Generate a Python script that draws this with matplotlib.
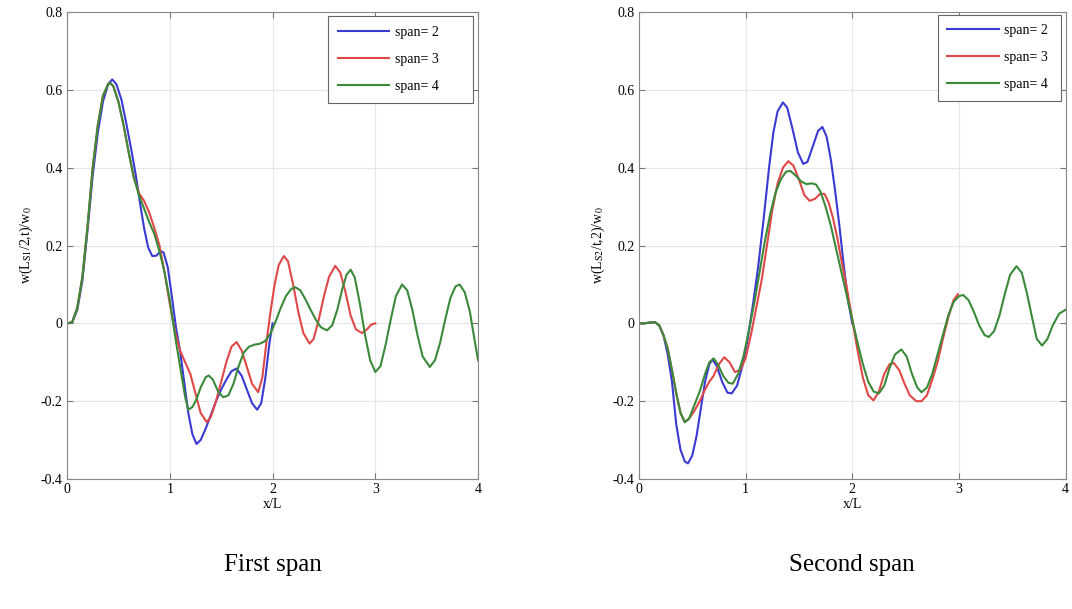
import matplotlib
matplotlib.use('Agg')
import matplotlib.pyplot as plt

plt.rcParams['font.family'] = ['Liberation Serif', 'DejaVu Serif']
plt.rcParams['mathtext.fontset'] = 'stix'

# ---- first span: midpoint deflection of span 1 ----
s1_x2 = [0, 0.05, 0.10, 0.15, 0.20, 0.25, 0.30, 0.35, 0.40, 0.44, 0.48, 0.53, 0.58, 0.63,
         0.67, 0.71, 0.75, 0.79, 0.83, 0.87, 0.91, 0.94, 0.98, 1.02, 1.06, 1.10, 1.14, 1.18,
         1.22, 1.26, 1.30, 1.35, 1.40, 1.45, 1.50, 1.55, 1.60, 1.65, 1.70, 1.75, 1.80, 1.85,
         1.89, 1.93, 1.97, 2.00]
s1_y2 = [0, 0.002, 0.035, 0.11, 0.24, 0.38, 0.49, 0.57, 0.615, 0.627, 0.615, 0.575, 0.51, 0.44,
         0.38, 0.31, 0.245, 0.195, 0.173, 0.174, 0.186, 0.182, 0.145, 0.07, -0.01, -0.07, -0.15, -0.23,
         -0.285, -0.31, -0.30, -0.27, -0.235, -0.20, -0.17, -0.145, -0.123, -0.116, -0.135, -0.17, -0.205, -0.222,
         -0.205, -0.14, -0.05, 0.0]

s1_x3 = [0, 0.05, 0.10, 0.15, 0.20, 0.25, 0.30, 0.35, 0.40, 0.42, 0.45, 0.50, 0.55, 0.60,
         0.65, 0.70, 0.75, 0.80, 0.85, 0.90, 0.95, 1.00, 1.05, 1.10, 1.15, 1.20, 1.25, 1.30,
         1.36, 1.40, 1.45, 1.50, 1.55, 1.60, 1.65, 1.70, 1.75, 1.80, 1.86, 1.90, 1.94, 1.98,
         2.02, 2.06, 2.11, 2.15, 2.20, 2.25, 2.30, 2.36, 2.40, 2.45, 2.50, 2.55, 2.61, 2.66,
         2.71, 2.76, 2.81, 2.87, 2.92, 2.96, 3.00]
s1_y3 = [0, 0.003, 0.04, 0.12, 0.25, 0.40, 0.51, 0.585, 0.615, 0.618, 0.61, 0.57, 0.51, 0.44,
         0.375, 0.335, 0.315, 0.285, 0.245, 0.20, 0.13, 0.05, -0.02, -0.07, -0.10, -0.13, -0.18, -0.23,
         -0.254, -0.24, -0.20, -0.15, -0.10, -0.06, -0.048, -0.07, -0.112, -0.155, -0.177, -0.14, -0.05, 0.03,
         0.10, 0.15, 0.173, 0.16, 0.10, 0.03, -0.025, -0.052, -0.04, 0.01, 0.07, 0.12, 0.148, 0.13,
         0.08, 0.02, -0.015, -0.025, -0.015, -0.003, 0.0]

s1_x4 = [0, 0.05, 0.10, 0.15, 0.20, 0.25, 0.30, 0.35, 0.40, 0.42, 0.45, 0.50, 0.55, 0.60,
         0.65, 0.70, 0.75, 0.80, 0.85, 0.90, 0.95, 1.00, 1.05, 1.10, 1.15, 1.18, 1.22, 1.26,
         1.30, 1.35, 1.38, 1.42, 1.47, 1.52, 1.57, 1.62, 1.67, 1.72, 1.77, 1.82, 1.88, 1.93,
         1.98, 2.03, 2.08, 2.13, 2.18, 2.22, 2.27, 2.32, 2.37, 2.42, 2.47, 2.53, 2.58, 2.63,
         2.68, 2.72, 2.76, 2.80, 2.85, 2.90, 2.95, 3.00, 3.05, 3.10, 3.15, 3.20, 3.26, 3.31,
         3.36, 3.41, 3.46, 3.53, 3.58, 3.63, 3.68, 3.73, 3.78, 3.82, 3.87, 3.92, 3.97, 4.00]
s1_y4 = [0, 0.003, 0.04, 0.12, 0.25, 0.40, 0.51, 0.585, 0.615, 0.618, 0.61, 0.57, 0.51, 0.44,
         0.375, 0.33, 0.295, 0.26, 0.23, 0.185, 0.13, 0.06, -0.03, -0.11, -0.19, -0.222, -0.215, -0.195,
         -0.165, -0.138, -0.134, -0.145, -0.175, -0.19, -0.185, -0.155, -0.11, -0.075, -0.06, -0.055, -0.052, -0.045,
         -0.026, 0.005, 0.04, 0.07, 0.088, 0.093, 0.085, 0.062, 0.035, 0.01, -0.01, -0.018, -0.005, 0.035,
         0.09, 0.125, 0.138, 0.118, 0.05, -0.03, -0.095, -0.125, -0.11, -0.055, 0.01, 0.07, 0.10, 0.085,
         0.035, -0.03, -0.085, -0.112, -0.095, -0.05, 0.01, 0.065, 0.095, 0.10, 0.08, 0.03, -0.05, -0.095]

# ---- second span ----
s2_x2 = [0, 0.05, 0.10, 0.15, 0.19, 0.23, 0.27, 0.31, 0.35, 0.39, 0.43, 0.46, 0.50, 0.54,
         0.58, 0.62, 0.66, 0.69, 0.73, 0.78, 0.83, 0.87, 0.92, 0.97, 1.02, 1.07, 1.12, 1.17,
         1.22, 1.26, 1.30, 1.35, 1.39, 1.44, 1.49, 1.54, 1.58, 1.63, 1.68, 1.72, 1.76, 1.80,
         1.84, 1.88, 1.92, 1.96, 2.00]
s2_y2 = [0, 0.0, 0.002, 0.003, -0.005, -0.03, -0.08, -0.15, -0.26, -0.325, -0.355, -0.36, -0.34, -0.29,
         -0.22, -0.15, -0.105, -0.093, -0.11, -0.15, -0.178, -0.18, -0.16, -0.11, -0.04, 0.05, 0.15, 0.27,
         0.40, 0.49, 0.545, 0.568, 0.555, 0.50, 0.44, 0.41, 0.415, 0.455, 0.495, 0.505, 0.48, 0.42,
         0.34, 0.25, 0.15, 0.06, 0.0]

s2_x3 = [0, 0.05, 0.10, 0.15, 0.19, 0.23, 0.27, 0.31, 0.35, 0.39, 0.43, 0.47, 0.52, 0.57,
         0.62, 0.66, 0.70, 0.75, 0.80, 0.85, 0.90, 0.95, 1.00, 1.05, 1.10, 1.15, 1.20, 1.25,
         1.30, 1.35, 1.40, 1.45, 1.50, 1.55, 1.60, 1.65, 1.70, 1.74, 1.78, 1.82, 1.86, 1.90,
         1.95, 2.00, 2.05, 2.10, 2.15, 2.20, 2.25, 2.30, 2.35, 2.39, 2.44, 2.49, 2.54, 2.60,
         2.65, 2.70, 2.75, 2.80, 2.85, 2.90, 2.95, 2.99]
s2_y3 = [0, 0.0, 0.002, 0.003, -0.005, -0.03, -0.065, -0.12, -0.18, -0.23, -0.254, -0.245, -0.225, -0.20,
         -0.17, -0.15, -0.135, -0.105, -0.087, -0.10, -0.125, -0.12, -0.09, -0.03, 0.04, 0.11, 0.20, 0.29,
         0.36, 0.40, 0.417, 0.405, 0.37, 0.33, 0.315, 0.32, 0.333, 0.333, 0.31, 0.27, 0.22, 0.16,
         0.09, 0.01, -0.07, -0.14, -0.185, -0.198, -0.175, -0.13, -0.105, -0.102, -0.12, -0.155, -0.185, -0.20,
         -0.20, -0.185, -0.145, -0.10, -0.04, 0.015, 0.06, 0.075]

s2_x4 = [0, 0.05, 0.10, 0.15, 0.19, 0.23, 0.27, 0.31, 0.35, 0.39, 0.43, 0.47, 0.52, 0.57,
         0.62, 0.66, 0.70, 0.74, 0.79, 0.84, 0.88, 0.93, 0.98, 1.03, 1.08, 1.13, 1.18, 1.23,
         1.28, 1.33, 1.38, 1.42, 1.47, 1.52, 1.57, 1.62, 1.66, 1.70, 1.75, 1.80, 1.85, 1.90,
         1.95, 2.00, 2.05, 2.10, 2.15, 2.20, 2.25, 2.30, 2.35, 2.40, 2.46, 2.51, 2.56, 2.61,
         2.65, 2.70, 2.75, 2.80, 2.85, 2.90, 2.95, 3.00, 3.04, 3.09, 3.14, 3.19, 3.24, 3.28,
         3.33, 3.38, 3.43, 3.48, 3.54, 3.59, 3.64, 3.69, 3.73, 3.78, 3.83, 3.88, 3.94, 4.00]
s2_y4 = [0, 0.0, 0.002, 0.003, -0.005, -0.03, -0.065, -0.12, -0.18, -0.23, -0.254, -0.245, -0.21, -0.175,
         -0.13, -0.10, -0.09, -0.105, -0.135, -0.153, -0.155, -0.13, -0.085, -0.02, 0.05, 0.13, 0.21, 0.28,
         0.335, 0.37, 0.39, 0.392, 0.38, 0.365, 0.358, 0.36, 0.357, 0.34, 0.30, 0.25, 0.19, 0.13,
         0.07, 0.01, -0.05, -0.105, -0.15, -0.175, -0.18, -0.16, -0.115, -0.08, -0.067, -0.085, -0.13, -0.165,
         -0.177, -0.165, -0.13, -0.08, -0.03, 0.02, 0.055, 0.07, 0.073, 0.06, 0.03, -0.005, -0.03, -0.035,
         -0.02, 0.02, 0.075, 0.125, 0.147, 0.13, 0.075, 0.01, -0.04, -0.057, -0.04, -0.005, 0.025, 0.035]

labels = ['span= 2', 'span= 3', 'span= 4']
colors = ['#3a3ad2', '#e04848', '#3a8a3a']
yticks = [-0.4, -0.2, 0, 0.2, 0.4, 0.6, 0.8]
yticklabels = ['-0.4', '-0.2', '0', '0.2', '0.4', '0.6', '0.8']
xticks = [0, 1, 2, 3, 4]

fig = plt.figure(figsize=(10.72, 6.09), dpi=100)
ax1 = fig.add_axes([0.0625, 0.2135, 0.3835, 0.7665])
ax2 = fig.add_axes([0.596, 0.2135, 0.398, 0.7665])

panels = [
    (ax1, [(s1_x2, s1_y2), (s1_x3, s1_y3), (s1_x4, s1_y4)], r'w(L$_{\mathrm{S1}}$/2,t)/w$_0$',
     'First span', (0.635, 0.0, 0.352, 0.991)),
    (ax2, [(s2_x2, s2_y2), (s2_x3, s2_y3), (s2_x4, s2_y4)], r'w(L$_{\mathrm{S2}}$/t,2)/w$_0$',
     'Second span', (0.70, 0.0, 0.29, 0.995)),
]

for ax, series, ylab, caption, legbox in panels:
    for (x, y), lab, c in zip(series, labels, colors):
        ax.plot(x, y, color=c, lw=1.5, label=lab)
    ax.set_xlim(0, 4)
    ax.set_ylim(-0.4, 0.8)
    ax.set_xticks(xticks)
    ax.set_yticks(yticks)
    ax.set_yticklabels(yticklabels)
    ax.grid(True, color='#e6e6e6', lw=0.8)
    ax.set_axisbelow(True)
    ax.tick_params(direction='in', top=True, right=True, labelsize=10, length=4,
                   color='#777777', pad=3)
    for sp in ax.spines.values():
        sp.set_color('#888888')
    ax.set_xlabel('x/L', fontsize=10, labelpad=1)
    ax.set_ylabel(ylab, fontsize=10, labelpad=4)
    leg = ax.legend(loc='upper right', bbox_to_anchor=legbox, mode='expand',
                    fontsize=10, fancybox=False, framealpha=1,
                    edgecolor='#666666', handlelength=3.7, handletextpad=0.4,
                    labelspacing=1.0, borderpad=0.7, borderaxespad=0.0)
    leg.get_frame().set_linewidth(0.8)
    pos = ax.get_position()
    fig.text((pos.x0 + pos.x1) / 2, 0.072, caption, ha='center', va='center', fontsize=18)

plt.savefig('out.png', dpi=100)
